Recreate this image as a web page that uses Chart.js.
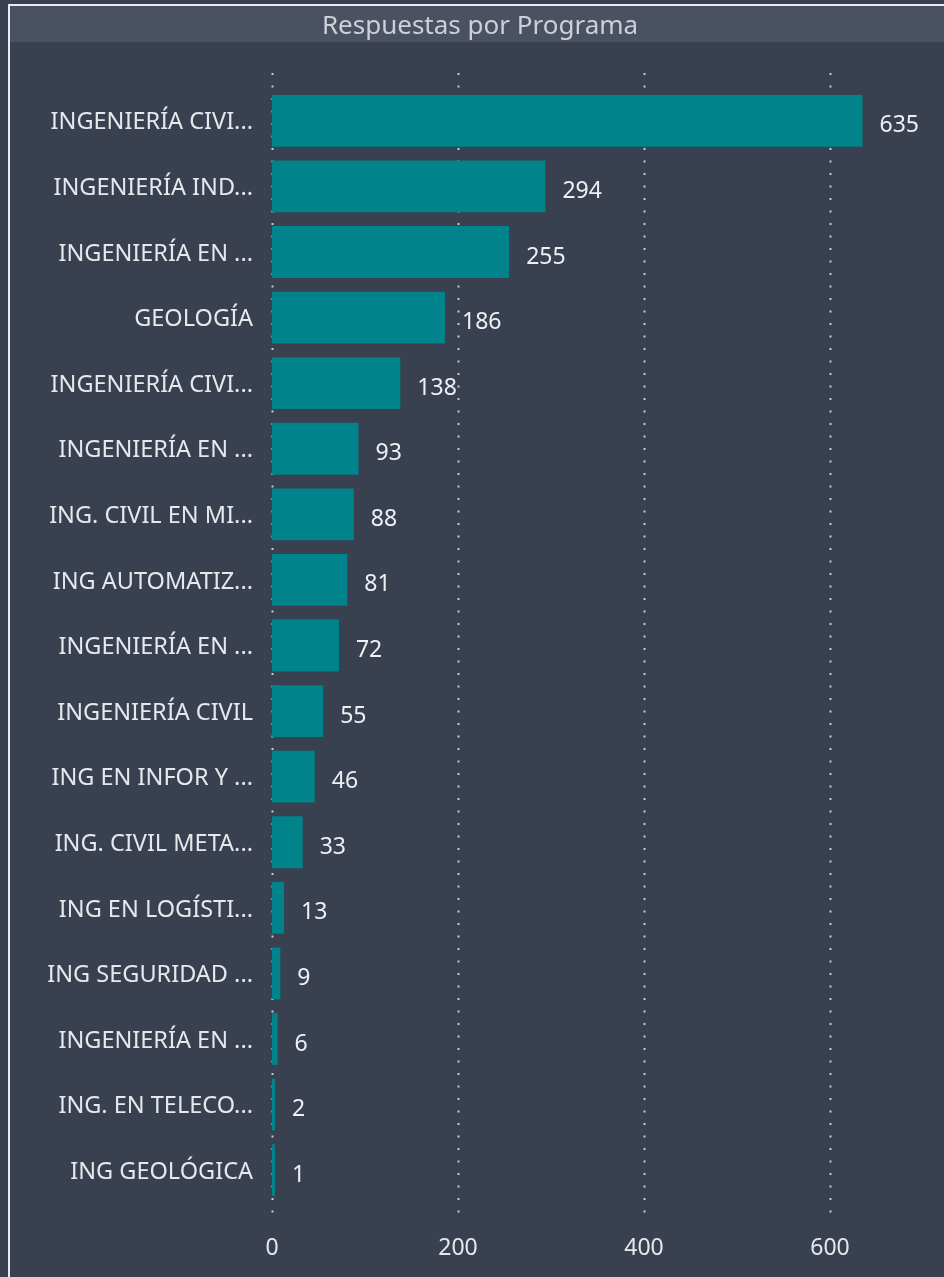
<!DOCTYPE html>
<html><head><meta charset="utf-8">
<script src="https://cdn.jsdelivr.net/npm/chart.js@4/dist/chart.umd.min.js"></script>
<style>html,body{margin:0;padding:0;background:#394050;}#wrap{width:944px;height:1277px;position:relative;}</style>
</head><body><div id="wrap"><canvas id="c" width="944" height="1277"></canvas></div>
<script>
const categories = ["INGENIERÍA CIVI...","INGENIERÍA IND...","INGENIERÍA EN ...","GEOLOGÍA","INGENIERÍA CIVI...","INGENIERÍA EN ...","ING. CIVIL EN MI...","ING AUTOMATIZ...","INGENIERÍA EN ...","INGENIERÍA CIVIL","ING EN INFOR Y ...","ING. CIVIL META...","ING EN LOGÍSTI...","ING SEGURIDAD ...","INGENIERÍA EN ...","ING. EN TELECO...","ING GEOLÓGICA"];
const responses = [635,294,255,186,138,93,88,81,72,55,46,33,13,9,6,2,1];
const xTicks = [0,200,400,600];
const title = "Respuestas por Programa";

const FONT = "'Noto Sans', 'Open Sans', sans-serif";
const frame = {
  id:'frame',
  beforeDraw(chart){
    const ctx = chart.ctx;
    ctx.save();
    ctx.fillStyle = '#394050';
    ctx.fillRect(0,0,chart.width,chart.height);
    ctx.fillStyle = '#4a5163';
    ctx.fillRect(10,6,chart.width-10,36);
    ctx.strokeStyle = '#e8ecf2';
    ctx.lineWidth = 2;
    ctx.beginPath();
    ctx.moveTo(9,chart.height+2); ctx.lineTo(9,5); ctx.lineTo(chart.width+2,5);
    ctx.stroke();
    ctx.fillStyle = '#cdd0d5';
    ctx.font = "26px " + FONT;
    ctx.textAlign = 'center'; ctx.textBaseline = 'middle';
    ctx.fillText(title, 480, 27);
    ctx.restore();
  },
  beforeDatasetsDraw(chart){
    const ctx = chart.ctx, xs = chart.scales.x;
    ctx.save();
    ctx.strokeStyle = '#c9ccd2';
    ctx.lineWidth = 2;
    ctx.setLineDash([2,10.5]);
    xTicks.forEach(v=>{
      const x = Math.round(xs.getPixelForValue(v))+0.5;
      ctx.beginPath(); ctx.moveTo(x,73); ctx.lineTo(x,1222); ctx.stroke();
    });
    ctx.restore();
  },
  afterDatasetsDraw(chart){
    const ctx = chart.ctx, meta = chart.getDatasetMeta(0);
    ctx.save();
    ctx.fillStyle = '#eef0f4';
    ctx.font = "23px " + FONT;
    ctx.textAlign = 'left'; ctx.textBaseline = 'middle';
    meta.data.forEach((bar,i)=>{
      ctx.fillText(String(responses[i]), bar.x + 17, bar.y + 5);
    });
    ctx.restore();
  }
};

new Chart(document.getElementById('c'), {
  type:'bar',
  data:{labels:categories, datasets:[{data:responses, backgroundColor:'#00838a', barPercentage:0.79, categoryPercentage:1.0, minBarLength:3}]},
  options:{
    indexAxis:'y', responsive:false, animation:false,
    layout:{padding:{top:88,right:21,bottom:0,left:0}},
    plugins:{legend:{display:false}, tooltip:{enabled:false}},
    scales:{
      x:{min:0,max:700, afterBuildTicks(s){s.ticks = xTicks.map(v=>({value:v}));},
         afterFit(s){s.height=74;},
         grid:{display:false, drawTicks:false}, border:{display:false},
         ticks:{color:'#e6e8ec', font:{size:23,family:FONT}, padding:32, maxRotation:0}},
      y:{afterFit(s){s.width=272;},
         grid:{display:false, drawTicks:false}, border:{display:false},
         ticks:{color:'#e6e8ec', font:{size:23.5,family:FONT}, padding:19, labelOffset:2, autoSkip:false}}
    }
  },
  plugins:[frame]
});
</script></body></html>
